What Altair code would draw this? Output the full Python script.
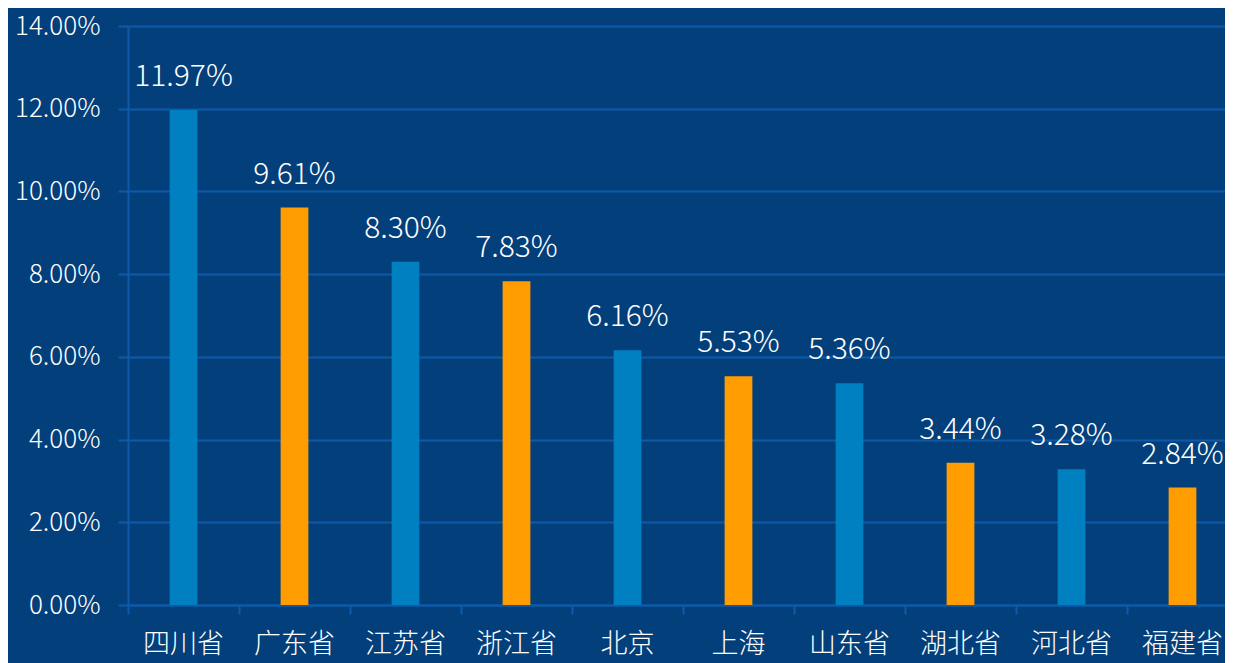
import altair as alt
import pandas as pd

provinces = ["四川省", "广东省", "江苏省", "浙江省", "北京", "上海", "山东省", "湖北省", "河北省", "福建省"]
shares = [11.97, 9.61, 8.30, 7.83, 6.16, 5.53, 5.36, 3.44, 3.28, 2.84]
groups = ["a", "b", "a", "b", "a", "b", "a", "b", "a", "b"]
bar_colors = ["#0080c0", "#ff9c00"]

df = pd.DataFrame({
    "province": provinces,
    "share": [v / 100 for v in shares],
    "group": groups,
    "label": [f"{v:.2f}%" for v in shares],
})

FONT = "Noto Sans CJK SC"
GRID = "#0f5aa8"

x = alt.X("province:N", sort=provinces, title=None,
          scale=alt.Scale(paddingInner=0.75, paddingOuter=0.375),
          axis=alt.Axis(labelAngle=0, labelFontSize=27, labelColor="white", labelFont=FONT,
                        labelFontWeight=300, labelPadding=17, labelBaseline="top",
                        domainColor=GRID, domainWidth=2, bandPosition=-1.5,
                        tickColor=GRID, tickSize=9, tickWidth=2, grid=False))

y = alt.Y("share:Q", title=None,
          scale=alt.Scale(domain=[0, 0.14], nice=False),
          axis=alt.Axis(format=".2%", values=[0, 0.02, 0.04, 0.06, 0.08, 0.10, 0.12, 0.14],
                        labelFontSize=26, labelColor="white", labelFont=FONT, labelFontWeight=300,
                        labelPadding=18,
                        domainColor=GRID, domainWidth=2, tickColor=GRID, tickSize=10, tickWidth=2,
                        grid=True, gridColor=GRID, gridWidth=2))

bars = alt.Chart(df).mark_bar().encode(
    x=x, y=y,
    color=alt.Color("group:N", scale=alt.Scale(domain=["a", "b"], range=bar_colors), legend=None),
)

text = alt.Chart(df).mark_text(dy=-24, fontSize=30, color="white", font=FONT, fontWeight=300,
                               baseline="alphabetic").encode(
    x=alt.X("province:N", sort=provinces), y="share:Q", text="label:N"
)

chart = (bars + text).properties(
    width=1110, height=579,
    background="#033f7b",
    padding={"left": 120, "top": 18, "right": -13, "bottom": 58},
    autosize=alt.AutoSizeParams(type="none"),
).configure_view(stroke=None)

chart.save("out.html", embed_options={"renderer": "svg", "actions": False})
